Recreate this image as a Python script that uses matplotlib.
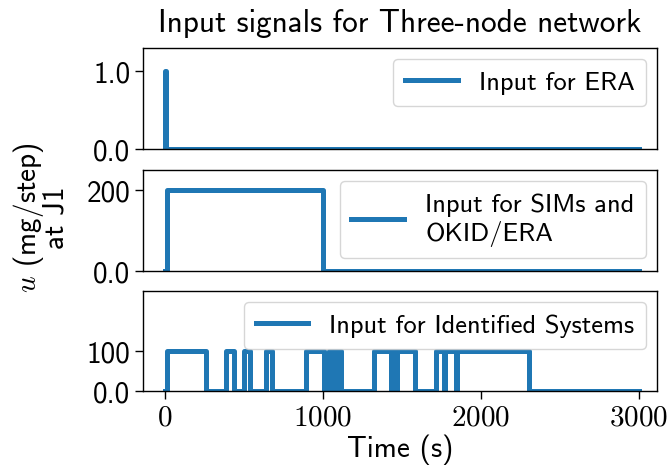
import matplotlib
matplotlib.use("Agg")
import matplotlib.pyplot as plt
from matplotlib.ticker import FuncFormatter

plt.rcParams['font.family'] = ['cmss10', 'DejaVu Sans']
plt.rcParams['mathtext.fontset'] = 'cm'
plt.rcParams['axes.unicode_minus'] = False
plt.rcParams['axes.formatter.use_mathtext'] = False

# ---- data ----
t_era = [0, 0, 8, 3000]
u_era = [0.0, 1.0, 0.0, 0.0]

t_sim = [0, 10, 1000, 3000]
u_sim = [0, 200, 0, 0]

t_id = [0, 10, 260, 386, 434, 502, 536, 640, 678, 894, 1008, 1035, 1072, 1082,
        1115, 1322, 1432, 1446, 1458, 1470, 1580, 1717, 1765, 1775, 1840, 1850,
        2303, 3000]
u_id = [0, 100, 0, 100, 0, 100, 0, 100, 0, 100, 0, 100, 0, 100,
        0, 100, 0, 100, 0, 100, 0, 100, 0, 100, 0, 100,
        0, 0]

labels = ["Input for ERA", "Input for SIMs and\nOKID/ERA", "Input for Identified Systems"]
yticks = [[0.0, 1.0], [0.0, 200], [0.0, 100]]
yticklabels = [["0.0", "1.0"], ["0.0", "200"], ["0.0", "100"]]
ylims = [(0, 1.3), (0, 248), (0, 250)]
xticks = [0, 1000, 2000, 3000]

color = '#1f77b4'
fig = plt.figure(figsize=(6.68, 4.77), dpi=100)
L, R = 143 / 668, 657 / 668
boxes = [(49, 150), (171, 272), (292, 392)]
axes = []
for (top, bot) in boxes:
    ax = fig.add_axes([L, 1 - bot / 477, R - L, (bot - top) / 477])
    axes.append(ax)

series = [(t_era, u_era), (t_sim, u_sim), (t_id, u_id)]
for i, ax in enumerate(axes):
    t, u = series[i]
    ax.plot(t, u, drawstyle='steps-post', color=color, lw=3.6, label=labels[i])
    ax.set_xlim(-140, 3115)
    ax.set_ylim(*ylims[i])
    ax.set_yticks(yticks[i])
    ax.set_yticklabels(yticklabels[i])
    ax.tick_params(axis='y', labelsize=21, length=5.5, width=1.0)
    for s in ax.spines.values():
        s.set_linewidth(1.0)
    leg = ax.legend(loc='upper right', fontsize=19, handlelength=2.0,
                    borderaxespad=0.4, handletextpad=0.8, borderpad=0.45)
    if i < 2:
        ax.set_xticks([])
    else:
        ax.set_xticks(xticks)
        ax.xaxis.set_major_formatter(FuncFormatter(lambda v, p: r'$%d$' % v))
        ax.tick_params(axis='x', labelsize=21, length=5.5, width=1.0)
        ax.set_xlabel('Time (s)', fontsize=21, labelpad=2)

axes[0].set_title('Input signals for Three-node network', fontsize=22.5, pad=12)
fig.text(0.06, (1 - 218 / 477), '$u$ (mg/step)\nat J1', rotation=90,
         ha='center', va='center', fontsize=21, linespacing=0.85,
         multialignment='center')

fig.savefig('out.png', dpi=100)
